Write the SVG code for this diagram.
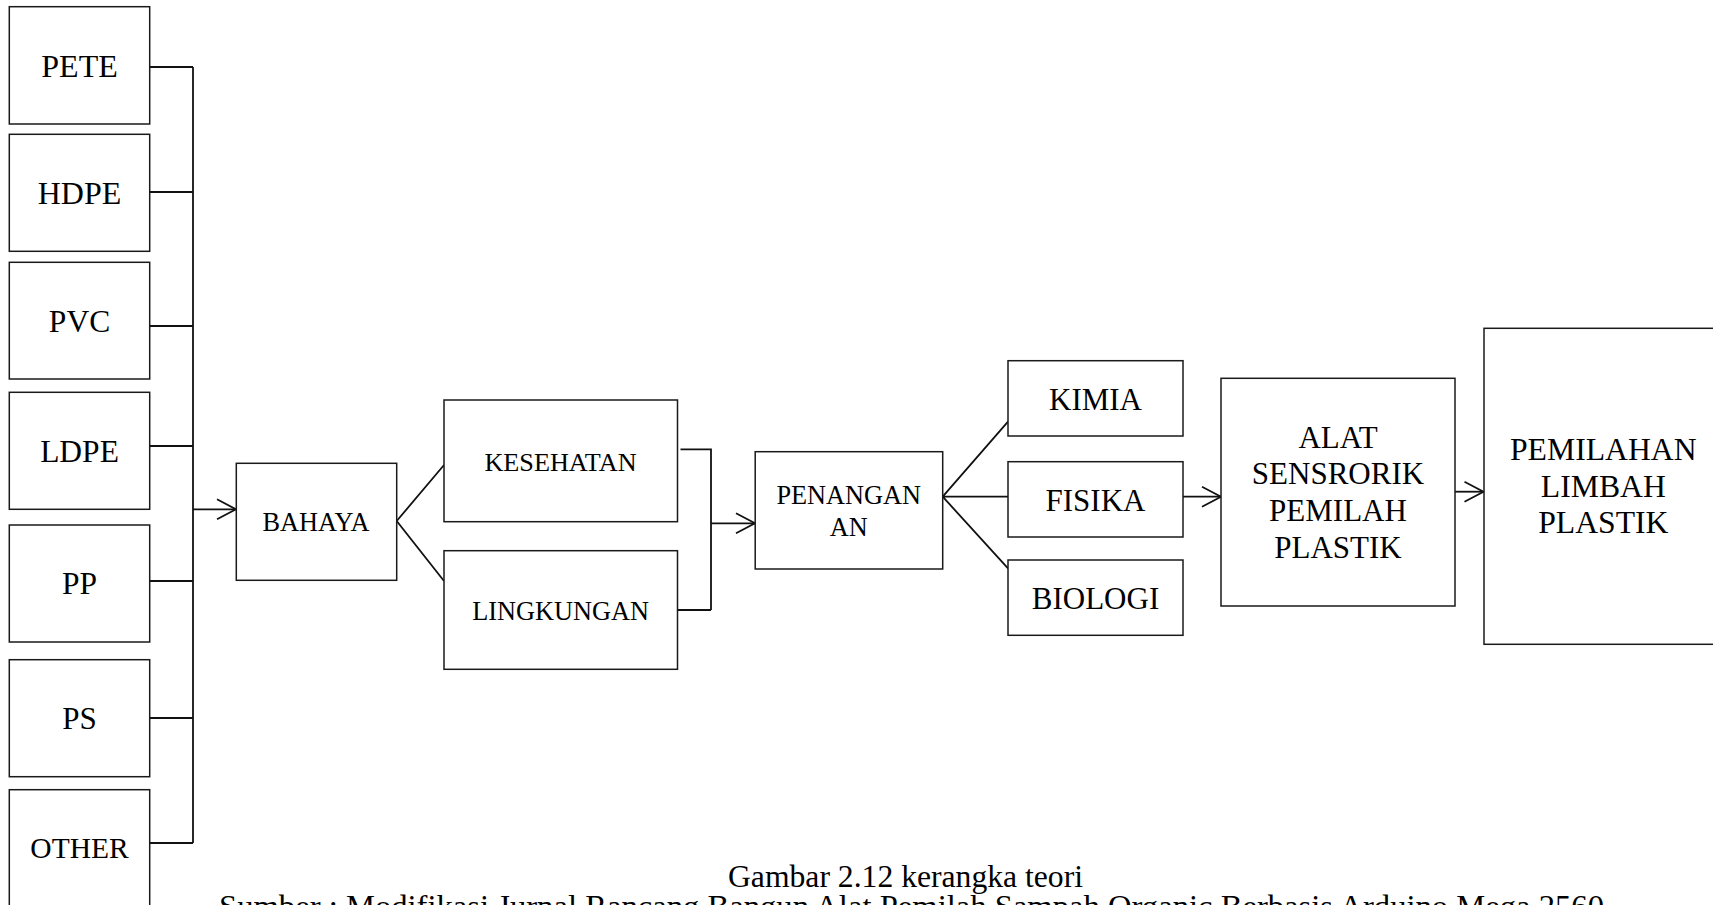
<svg xmlns="http://www.w3.org/2000/svg" width="1713" height="905" viewBox="0 0 1713 905">
<style>
.box{fill:#fff;stroke:#1a1a1a;stroke-width:1.5}
.t{font-family:"Liberation Serif","Times New Roman",serif;fill:#000;text-anchor:middle}
.ln{fill:none;stroke:#111;stroke-width:1.8}
.ar{fill:none;stroke:#111;stroke-width:1.8;marker-end:url(#ah)}
</style>
<defs>
<marker id="ah" markerUnits="userSpaceOnUse" markerWidth="24" markerHeight="24" refX="19" refY="10" orient="auto" overflow="visible">
<path d="M0,0 L19,10 L0,20" fill="none" stroke="#111" stroke-width="1.8"/>
</marker>
</defs>
<rect width="1713" height="905" fill="#fff"/>

<g id="connectors">
<path class="ln" d="M150,67 H193 M150,192 H193 M150,326 H193 M150,446 H193 M150,581 H193 M150,718 H193 M150,843 H193 M193,67 V843"/>
<path class="ar" d="M193,509.3 H236"/>
<path class="ln" d="M396.7,521 L444,465 M396.7,521 L444,581"/>
<path class="ln" d="M680.5,449.3 H711 V610 M678,610 H711"/>
<path class="ar" d="M711,523.3 H755"/>
<path class="ln" d="M942.7,496.7 L1008,421.7 M942.7,496.7 H1008 M942.7,496.7 L1008,568.3"/>
<path class="ar" d="M1183,496.7 H1221"/>
<path class="ar" d="M1455,491.7 H1483.5"/>
</g>

<g id="n-pete"><rect class="box" x="9.3" y="6.7" width="140.4" height="117.3"/><text class="t" x="79.5" y="77.3" font-size="32">PETE</text></g>
<g id="n-hdpe"><rect class="box" x="9.3" y="134.3" width="140.4" height="117"/><text class="t" x="79.5" y="204" font-size="32">HDPE</text></g>
<g id="n-pvc"><rect class="box" x="9.3" y="262.3" width="140.4" height="116.7"/><text class="t" x="79.5" y="331.7" font-size="31.5">PVC</text></g>
<g id="n-ldpe"><rect class="box" x="9.3" y="392.3" width="140.4" height="117"/><text class="t" x="79.5" y="461.7" font-size="31.5">LDPE</text></g>
<g id="n-pp"><rect class="box" x="9.3" y="525" width="140.4" height="117"/><text class="t" x="79.5" y="594.3" font-size="31.5">PP</text></g>
<g id="n-ps"><rect class="box" x="9.3" y="659.7" width="140.4" height="117"/><text class="t" x="79.5" y="728.7" font-size="31">PS</text></g>
<g id="n-other"><rect class="box" x="9.3" y="789.7" width="140.4" height="140"/><text class="t" x="79.5" y="858.3" font-size="29.5">OTHER</text></g>

<g id="n-bahaya"><rect class="box" x="236.3" y="463.3" width="160.4" height="117"/><text class="t" x="316" y="531" font-size="26.3">BAHAYA</text></g>
<g id="n-kesehatan"><rect class="box" x="444" y="400" width="233.5" height="121.7"/><text class="t" x="560.5" y="470.7" font-size="26.2">KESEHATAN</text></g>
<g id="n-lingkungan"><rect class="box" x="444" y="550.7" width="233.5" height="118.6"/><text class="t" x="560.5" y="620" font-size="26.3">LINGKUNGAN</text></g>
<g id="n-penanganan"><rect class="box" x="755.2" y="451.7" width="187.5" height="117.3"/><text class="t" x="848.7" y="504" font-size="26.3">PENANGAN</text><text class="t" x="848.7" y="535.7" font-size="26.3">AN</text></g>

<g id="n-kimia"><rect class="box" x="1008" y="360.7" width="175" height="75.3"/><text class="t" x="1095.5" y="410" font-size="31">KIMIA</text></g>
<g id="n-fisika"><rect class="box" x="1008" y="461.7" width="175" height="75.3"/><text class="t" x="1095.5" y="510.7" font-size="31">FISIKA</text></g>
<g id="n-biologi"><rect class="box" x="1008" y="560" width="175" height="75.3"/><text class="t" x="1095.5" y="608.7" font-size="31">BIOLOGI</text></g>

<g id="n-alat"><rect class="box" x="1221" y="378.3" width="234" height="227.7"/>
<text class="t" x="1338" y="447.7" font-size="31">ALAT</text>
<text class="t" x="1338" y="484.3" font-size="31">SENSRORIK</text>
<text class="t" x="1338" y="521" font-size="31">PEMILAH</text>
<text class="t" x="1338" y="558.3" font-size="31">PLASTIK</text></g>

<g id="n-pemilahan"><rect class="box" x="1484" y="328.3" width="245" height="316"/>
<text class="t" x="1603.3" y="460" font-size="31.7">PEMILAHAN</text>
<text class="t" x="1603.3" y="496.7" font-size="31.7">LIMBAH</text>
<text class="t" x="1603.3" y="533.3" font-size="31.7">PLASTIK</text></g>

<g id="caption">
<text class="t" x="905.5" y="887" font-size="32" textLength="355" lengthAdjust="spacingAndGlyphs">Gambar 2.12 kerangka teori</text>
<text x="219" y="917" font-size="32" font-family="Liberation Serif, Times New Roman, serif" textLength="1385" lengthAdjust="spacingAndGlyphs">Sumber : Modifikasi Jurnal Rancang Bangun Alat Pemilah Sampah Organic Berbasis Arduino Mega 2560</text>
</g>
</svg>
